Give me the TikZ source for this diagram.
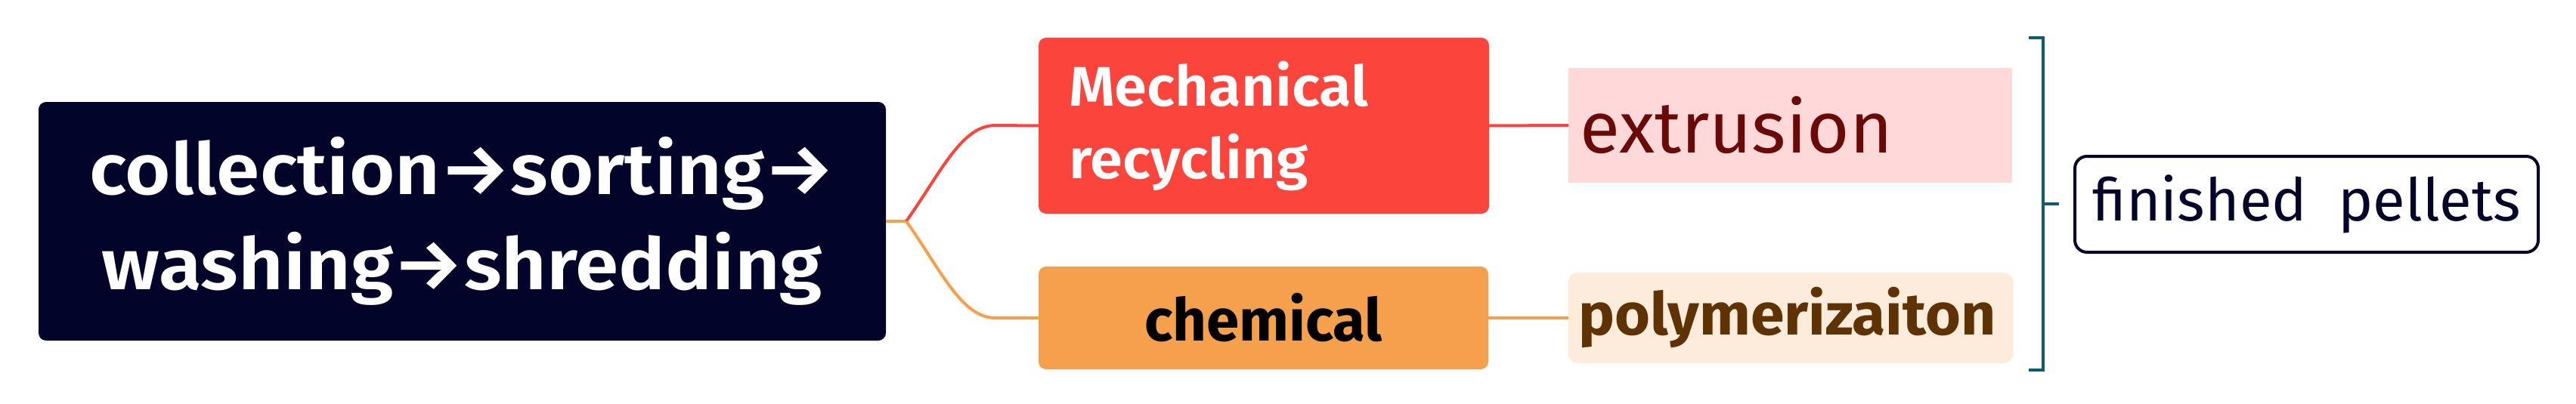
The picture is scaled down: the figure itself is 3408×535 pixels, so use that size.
\documentclass[tikz,border=0pt]{standalone}
\usepackage{fontspec}
\setmainfont{Fira Sans}
\newfontfamily\fmain{Fira Sans SemiBold}[FakeStretch=1.09]
\newfontfamily\fmech{Fira Sans SemiBold}[FakeStretch=1.05]
\newfontfamily\fbold{Fira Sans Bold}
\newfontfamily\fpoly{Fira Sans Bold}[FakeStretch=1.03]
\newfontfamily\freg{Fira Sans}[FakeStretch=1.01]
\definecolor{navy}{HTML}{02042A}
\definecolor{mred}{HTML}{FA443C}
\definecolor{morange}{HTML}{F5A04D}
\definecolor{extfill}{HTML}{FFD9D9}
\definecolor{exttext}{HTML}{6A0A08}
\definecolor{polyfill}{HTML}{FDEBDC}
\definecolor{polytext}{HTML}{5E3203}
\definecolor{teal}{HTML}{0E5C6E}
\tikzset{
  box/.style={inner sep=0pt, outer sep=0pt, rectangle},
  link/.style={line width=2pt},
}
\begin{document}
\begin{tikzpicture}[x=0.5pt,y=-0.5pt]
\useasboundingbox (0,0) rectangle (3408,535);
% main box
\node[box, rounded corners=5pt, fill=navy, text=white, minimum width=560.5pt, minimum height=158pt,
  align=center, font=\fmain\fontsize{47.5pt}{63pt}\selectfont] (main) at (611.5,293)
  {collection→sorting→\\washing→shredding};
% mechanical
\node[box, rounded corners=5pt, fill=mred, text=white, minimum width=298pt, minimum height=116.5pt,
  text width=258pt, align=left, font=\fmech\fontsize{37pt}{48pt}\selectfont] (mech) at (1672,166.5)
  {Mechanical\\recycling};
% chemical
\node[box, rounded corners=5pt, fill=morange, text=black, minimum width=297.5pt, minimum height=68pt,
  align=center, font=\fbold\fontsize{39pt}{47pt}\selectfont] (chem) at (1671.5,421)
  {chemical};
% extrusion
\node[box, fill=extfill, text=exttext, minimum width=293.5pt, minimum height=76pt,
  text width=278.5pt, align=left, font=\freg\fontsize{48pt}{58pt}\selectfont] (extr) at (2368.5,166)
  {extrusion};
% polymerizaiton
\node[box, rounded corners=6.5pt, fill=polyfill, text=polytext, minimum width=294.5pt, minimum height=60pt,
  text width=280.5pt, align=left, font=\fpoly\fontsize{39pt}{47pt}\selectfont] (poly) at (2369,421)
  {polymerizaiton};
% finished pellets
\node[box, rounded corners=8pt, draw=navy, line width=2pt, text=navy, minimum width=306.5pt, minimum height=63.5pt,
  align=center, font=\fontsize{39pt}{47pt}\selectfont] (fin) at (3051.5,270.5)
  {finished\ \ pellets};
% connectors
\coordinate (J) at (1199,293);
\draw[link, morange] (main.east) -- (J);
\draw[link, mred] (J) .. controls (1245,228) and (1272,166) .. (1317,166) -- (mech.west);
\draw[link, morange] (J) .. controls (1245,358) and (1272,421) .. (1317,421) -- (chem.west);
\draw[link, mred] (mech.east) -- (extr.west);
\draw[link, morange] (chem.east) -- (poly.west);
% bracket
\coordinate (bt) at (2703,50);
\coordinate (bb) at (2703,490);
\coordinate (bm) at (2703,270);
\draw[link, teal] (2684,50) -- (bt) -- (bb) -- (2684,490);
\draw[link, teal] (bm) -- (2724,270);
\end{tikzpicture}
\end{document}
